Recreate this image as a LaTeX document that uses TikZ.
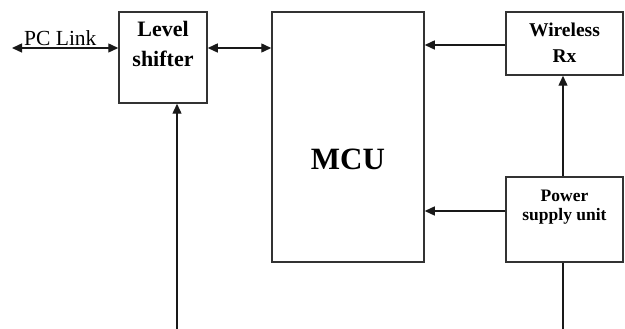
\documentclass[tikz,border=0pt]{standalone}
\usepackage{fontspec}
\setmainfont{Liberation Serif}
\usetikzlibrary{arrows.meta}
\begin{document}
\begin{tikzpicture}[x=1pt,y=-1pt,
  box/.style={draw=black!80, line width=1.5pt, minimum width=#1, inner sep=0pt},
  wire/.style={draw=black!90, line width=1.4pt},
  tip/.style={-{Triangle[length=10pt,width=9pt]}},
  dtip/.style={{Triangle[length=10pt,width=9pt]}-{Triangle[length=10pt,width=9pt]}},
  lbl/.style={anchor=base, inner sep=0pt, font=\bfseries}]
\useasboundingbox (0,0) rectangle (625,329);
% blocks
\node[box=88pt, minimum height=91pt] (ls) at (163,57.5) {};
\node[box=152pt, minimum height=250pt] (mcu) at (348,137) {};
\node[box=117pt, minimum height=63pt] (rx) at (564.5,43.5) {};
\node[box=117pt, minimum height=85pt] (psu) at (564.5,219.5) {};
% block captions
\node[lbl, font=\fontsize{22}{24}\selectfont\bfseries] (t1) at (163,37) {Level};
\node[lbl, font=\fontsize{22}{24}\selectfont\bfseries] (t2) at (163,67) {shifter};
\node[lbl, font=\fontsize{31}{33}\selectfont\bfseries] (t3) at (348,170) {MCU};
\node[lbl, font=\fontsize{19.5}{22}\selectfont\bfseries] (t4) at (564.5,37) {Wireless};
\node[lbl, font=\fontsize{19.5}{22}\selectfont\bfseries] (t5) at (564.5,63) {Rx};
\node[lbl, font=\fontsize{17.5}{20}\selectfont\bfseries] (t6) at (564.5,201.5) {Power};
\node[lbl, font=\fontsize{17.5}{20}\selectfont\bfseries] (t7) at (564.5,221) {supply unit};
% free ends
\coordinate (pc) at (12,48);
\coordinate (lsin) at (177,329);
\coordinate (psuout) at (563,329);
% connectors
\draw[wire, dtip] (pc) -- (ls.west |- pc);
\node[anchor=base west, inner sep=0pt, font=\fontsize{21.5}{24}\selectfont] (pcl) at (24,46) {PC Link};
\draw[wire, dtip] (ls.east |- pc) -- (mcu.west |- pc);
\draw[wire, tip] (lsin) -- (lsin |- ls.south);
\draw[wire, tip] (rx.west |- 0,45) -- (mcu.east |- 0,45);
\draw[wire, tip] (psu.west |- 0,211) -- (mcu.east |- 0,211);
\draw[wire, tip] (psu.north -| psuout) -- (rx.south -| psuout);
\draw[wire] (psu.south -| psuout) -- (psuout);
\end{tikzpicture}
\end{document}
